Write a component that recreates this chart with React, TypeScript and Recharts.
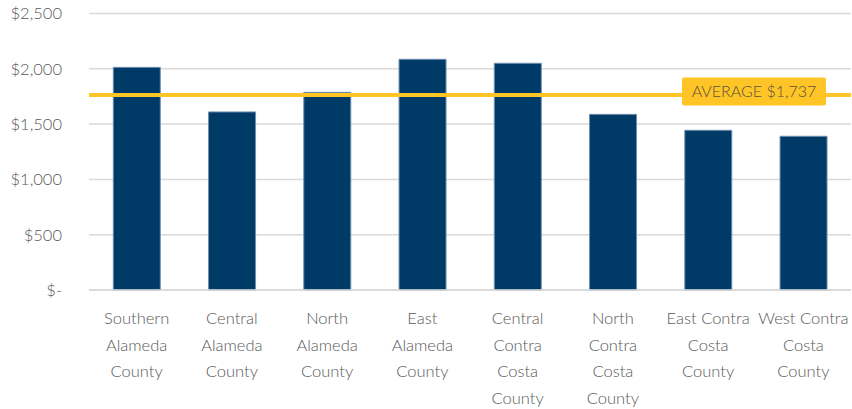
import { Bar, BarChart, CartesianGrid, ReferenceLine, XAxis, YAxis } from "recharts";

const regions = [
  "Southern|Alameda|County",
  "Central|Alameda|County",
  "North|Alameda|County",
  "East|Alameda|County",
  "Central|Contra|Costa|County",
  "North|Contra|Costa|County",
  "East Contra|Costa|County",
  "West Contra|Costa|County",
];
const rents = [2013, 1610, 1787, 2086, 2050, 1588, 1444, 1390];
const yTicks = [0, 500, 1000, 1500, 2000, 2500];
const averageLevel = 1762;
const averageLabel = "AVERAGE $1,737";

const data = regions.map((r, i) => ({ region: r, rent: rents[i] }));

const FONT = "Lato, 'Open Sans', sans-serif";

const fmtMoney = (v: number) => (v === 0 ? "$-" : "$" + v.toLocaleString("en-US"));

function RegionTick({ x, y, payload }: any) {
  const lines = String(payload.value).split("|");
  return (
    <text x={x} y={y} textAnchor="middle" fill="#595959" fontSize={16.5} fontFamily={FONT} fontWeight={300}>
      {lines.map((l, i) => (
        <tspan key={i} x={x} y={y + 26 + i * 26.7}>
          {l}
        </tspan>
      ))}
    </text>
  );
}

function AverageTag({ viewBox }: any) {
  const cy = viewBox.y - 3.5;
  return (
    <g>
      <rect x={682} y={cy - 14} width={144} height={28} rx={2} fill="#FFC425" />
      <text x={754} y={cy + 5.5} textAnchor="middle" fill="#5b5340" fontSize={16} fontFamily={FONT} fontWeight={300}>
        {averageLabel}
      </text>
    </g>
  );
}

export default function App() {
  return (
    <div style={{ position: "absolute", left: 0, top: 0, background: "#fff" }}>
      <BarChart
        width={852}
        height={409}
        data={data}
        margin={{ top: 13.5, right: 1, bottom: 0, left: 0 }}
        barCategoryGap="25.5%"
      >
        <CartesianGrid vertical={false} stroke="#d9d9d9" strokeWidth={1.5} />
        <XAxis
          dataKey="region"
          interval={0}
          height={119}
          tickLine={false}
          axisLine={{ stroke: "#d9d9d9", strokeWidth: 1.5 }}
          tick={<RegionTick />}
        />
        <YAxis
          width={89}
          domain={[0, 2500]}
          ticks={yTicks}
          tickFormatter={fmtMoney}
          axisLine={false}
          tickLine={false}
          tickSize={0}
          tickMargin={27}
          tick={{ fontSize: 16.5, fill: "#595959", fontFamily: FONT, fontWeight: 300 }}
        />
        <Bar dataKey="rent" fill="#003A66" stroke="#6f90b0" strokeWidth={1} isAnimationActive={false} />
        <ReferenceLine
          y={averageLevel}
          stroke="#FFC425"
          strokeWidth={4}
          label={<AverageTag />}
        />
      </BarChart>
    </div>
  );
}
